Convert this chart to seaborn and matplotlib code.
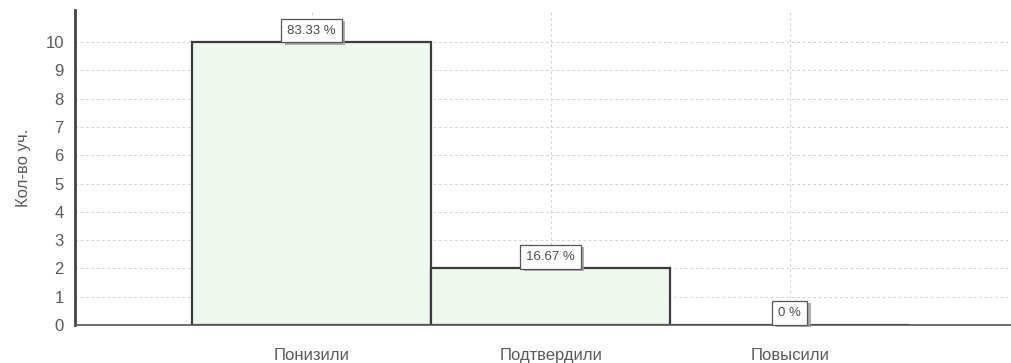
import matplotlib
matplotlib.use("Agg")
import matplotlib.pyplot as plt
import matplotlib.patheffects as pe
import seaborn as sns
import pandas as pd

categories = ["Понизили", "Подтвердили", "Повысили"]
counts = [10, 2, 0]
percent_labels = ["83.33 %", "16.67 %", "0 %"]
y_ticks = list(range(0, 11))

sns.set_theme(style="white")
plt.rcParams['font.family'] = ['Liberation Sans', 'DejaVu Sans']

df = pd.DataFrame({"cat": categories, "n": counts})

fig = plt.figure(figsize=(10.12, 3.63), dpi=100)
ax = fig.add_axes([0.074, 0.105, 0.926, 0.867])

sns.barplot(data=df, x="cat", y="n", width=1.0, color="#eff8ef",
            edgecolor="#3c3c3c", linewidth=1.6, saturation=1, ax=ax, zorder=2)

ax.set_xlim(-0.99, 2.93)
ax.set_ylim(0, 11.13)
ax.set_yticks(y_ticks)
ax.set_yticklabels([str(t) for t in y_ticks])

ax.grid(True, axis="both", linestyle=(0, (2.5, 3)), color="#cfcfcf", linewidth=0.7, zorder=0)
ax.set_axisbelow(True)

for s in ["top", "right"]:
    ax.spines[s].set_visible(False)
ax.spines["left"].set_color("#444444")
ax.spines["left"].set_linewidth(2.0)
ax.spines["bottom"].set_color("#555555")
ax.spines["bottom"].set_linewidth(1.2)

ax.tick_params(axis="y", labelsize=12, labelcolor="#5a5a5a", length=0, pad=8)
ax.tick_params(axis="x", labelsize=12, labelcolor="#5a5a5a", length=0, pad=17)
ax.set_xlabel("")
ax.set_ylabel("Кол-во уч.", fontsize=12, color="#5a5a5a", labelpad=10)

labels = ax.bar_label(ax.containers[0], labels=percent_labels, padding=4,
                      fontsize=9.5, color="#4a4a4a",
                      bbox=dict(boxstyle="square,pad=0.45", fc="white", ec="#555555", lw=0.9))
for t in labels:
    t.set_zorder(5)
    t.get_bbox_patch().set_path_effects([
        pe.SimplePatchShadow(offset=(2.5, -1.5), shadow_rgbFace="#999999", alpha=0.8),
        pe.Normal()])

fig.savefig("out.png", dpi=100)
